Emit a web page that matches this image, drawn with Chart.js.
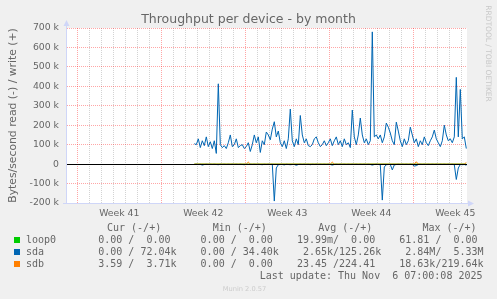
<!DOCTYPE html>
<html>
<head>
<meta charset="utf-8">
<script src="https://cdn.jsdelivr.net/npm/chart.js@4.4.1/dist/chart.umd.min.js"></script>
<style>
  html, body { margin: 0; padding: 0; background: #f0f0f0; }
  #wrap { width: 497px; height: 299px; }
</style>
</head>
<body>
<div id="wrap"><canvas id="graph" width="497" height="299"></canvas></div>
<script>
// munin "diskstats throughput" month graph
// x = hours since monday of week 41, y = kB/s (read drawn below zero)

const weekLabels = ['Week 41', 'Week 42', 'Week 43', 'Week 44', 'Week 45'];
const weekMidHours = [84, 252, 420, 588, 756];

const startHour = 234;  // first sample of sda/sdb
const stepHours = 4;

const sdaWrite = [
  105, 100, 130, 85, 120, 95, 140, 90, 115, 80,
  120, 55, 413, 100, 85, 95, 80, 110, 150, 90,
  100, 130, 85, 95, 100, 80, 90, 110, 65, 100,
  150, 110, 140, 60, 120, 100, 165, 150, 125, 180,
  218, 140, 170, 110, 90, 120, 80, 130, 283, 120,
  90, 130, 100, 250, 150, 110, 130, 95, 90, 100,
  130, 140, 110, 90, 100, 120, 95, 110, 130, 95,
  120, 140, 100, 120, 90, 130, 100, 110, 85, 278,
  140, 100, 150, 237, 150, 110, 130, 100, 120, 680,
  140, 150, 130, 150, 110, 140, 211, 190, 160, 120,
  100, 216, 170, 120, 90, 130, 100, 120, 190, 150,
  110, 130, 90, 120, 100, 140, 110, 95, 120, 140,
  175, 130, 110, 90, 120, 200, 150, 120, 130, 110,
  140, 446, 140, 384, 130, 140, 80
];

const sdaRead = [
  2, 1, 2, 1, 5, 2, 1, 2, 1, 2,
  1, 2, 3, 1, 2, 1, 2, 1, 2, 1,
  2, 1, 2, 1, 2, 3, 1, 2, 1, 2,
  1, 2, 1, 2, 3, 1, 2, 1, 2, 1,
  190, 20, 3, 2, 2, 4, 1, 2, 3, 2,
  2, 6, 2, 1, 2, 1, 2, 1, 3, 1,
  2, 1, 2, 1, 2, 1, 2, 1, 2, 5,
  2, 1, 2, 1, 2, 1, 2, 1, 2, 1,
  2, 1, 2, 1, 2, 1, 2, 1, 2, 5,
  2, 1, 2, 3, 185, 15, 3, 2, 2, 30,
  4, 2, 1, 2, 1, 2, 1, 2, 1, 2,
  10, 8, 2, 1, 2, 1, 2, 1, 2, 1,
  2, 1, 2, 1, 2, 1, 2, 1, 2, 1,
  3, 79, 20, 2, 3, 2, 6
];

const sdbWrite = [
  0, 0, 0, 0, 0, 0, 0, 0, 0, 0,
  0, 0, 0, 0, 0, 0, 0, 0, 0, 0,
  0, 0, 0, 0, 0, 0, 0, 10, 0, 0,
  0, 0, 0, 0, 0, 0, 0, 0, 0, 0,
  0, 0, 0, 0, 0, 0, 0, 0, 0, 0,
  0, 0, 0, 0, 0, 0, 0, 0, 0, 0,
  0, 0, 0, 0, 0, 0, 0, 0, 0, 10,
  0, 0, 0, 0, 0, 0, 0, 0, 0, 0,
  0, 0, 0, 0, 0, 0, 0, 0, 0, 0,
  0, 0, 0, 0, 0, 0, 0, 0, 0, 0,
  0, 0, 0, 0, 0, 0, 0, 0, 0, 0,
  0, 12, 0, 0, 0, 0, 0, 0, 0, 0,
  0, 0, 0, 0, 0, 0, 0, 0, 0, 0,
  0, 0, 0, 0, 0, 0, 8
];

const loop0Hours = [234, 778];
const loop0Write = [0, 0];

// legend table
const legendNames = ['loop0', 'sda', 'sdb'];
const legendColors = ['#00cc00', '#0066b3', '#ff8000'];
const curCol = ['  0.00 /  0.00 ', '  0.00 / 72.04k', '  3.59 /  3.71k'];
const minCol = ['  0.00 /  0.00 ', '  0.00 / 34.40k', '  0.00 /  0.00 '];
const avgCol = [' 19.99m/  0.00 ', '  2.65k/125.26k', ' 23.45 /224.41 '];
const maxCol = [' 61.81 /  0.00 ', '  2.84M/  5.33M', ' 18.63k/219.64k'];
const lastUpdate = 'Last update: Thu Nov  6 07:00:08 2025';

const hourOf = i => startHour + i * stepHours;
const GRID = 'rgba(128,128,128,0.35)';
const MGRID = 'rgba(255,0,0,0.35)';
const AXIS = '#cfd6f8';
const FONT = '#666666';

let muninPlugin = {
    id: 'munin',
    beforeDraw(chart) {
        const {ctx, chartArea: a} = chart;
        ctx.save();
        ctx.fillStyle = '#ffffff';
        ctx.fillRect(a.left, a.top, a.right - a.left, a.bottom - a.top);
        ctx.restore();
    },
    afterDatasetsDraw(chart) {
        const {ctx, chartArea: a} = chart;
        const y0 = Math.round(chart.scales.y.getPixelForValue(0)) + 0.5;
        ctx.save();
        // zero line
        ctx.strokeStyle = '#000000';
        ctx.lineWidth = 1;
        ctx.beginPath();
        ctx.moveTo(a.left, y0);
        ctx.lineTo(a.right, y0);
        ctx.stroke();
        // axes + arrows
        ctx.strokeStyle = AXIS;
        ctx.fillStyle = AXIS;
        ctx.beginPath();
        ctx.moveTo(a.left - 0.5, a.bottom + 0.5);
        ctx.lineTo(a.left - 0.5, a.top - 4);
        ctx.moveTo(a.left - 4, a.bottom + 0.5);
        ctx.lineTo(a.right + 3, a.bottom + 0.5);
        ctx.stroke();
        ctx.beginPath();
        ctx.moveTo(a.left - 0.5, a.top - 8);
        ctx.lineTo(a.left - 3.5, a.top - 2);
        ctx.lineTo(a.left + 2.5, a.top - 2);
        ctx.closePath();
        ctx.fill();
        ctx.beginPath();
        ctx.moveTo(a.right + 7, a.bottom + 0.5);
        ctx.lineTo(a.right + 1, a.bottom - 2.5);
        ctx.lineTo(a.right + 1, a.bottom + 3.5);
        ctx.closePath();
        ctx.fill();
        ctx.restore();
    },
    afterDraw(chart) {
        const {ctx, chartArea: a} = chart;
        ctx.save();
        ctx.fillStyle = FONT;
        // title
        ctx.font = '12.5px "DejaVu Sans"';
        ctx.textAlign = 'center';
        ctx.textBaseline = 'alphabetic';
        ctx.fillText('Throughput per device - by month', 248.5, 23);
        // vertical label
        ctx.save();
        ctx.translate(16, (a.top + a.bottom) / 2);
        ctx.rotate(-Math.PI / 2);
        ctx.font = '10.8px "DejaVu Sans"';
        ctx.fillText('Bytes/second read (-) / write (+)', 0, 0);
        ctx.restore();
        // watermark
        ctx.save();
        ctx.translate(485.5, 53.5);
        ctx.rotate(Math.PI / 2);
        ctx.fillStyle = '#c8c8c8';
        ctx.font = '7.5px "DejaVu Sans"';
        ctx.fillText('RRDTOOL / TOBI OETIKER', 0, 0);
        ctx.restore();
        // legend
        ctx.font = '10px "DejaVu Sans Mono"';
        ctx.textAlign = 'left';
        ctx.fillText('Cur (-/+)', 107, 231);
        ctx.fillText('Min (-/+)', 212.7, 231);
        ctx.fillText('Avg (-/+)', 318.2, 231);
        ctx.fillText('Max (-/+)', 422.4, 231);
        legendNames.forEach((name, i) => {
            ctx.fillStyle = legendColors[i];
            ctx.fillRect(14, 237 + i * 12, 6, 6);
            ctx.fillStyle = FONT;
            let row = name.padEnd(10) + curCol[i] + '  ' + minCol[i] + '  ' + avgCol[i] + '  ' + maxCol[i];
            ctx.fillText(row, 26, 243 + i * 12);
        });
        ctx.textAlign = 'right';
        ctx.fillText(lastUpdate, 482.5, 279);
        // footer
        ctx.textAlign = 'center';
        ctx.fillStyle = '#cccccc';
        ctx.font = '6.7px "DejaVu Sans"';
        ctx.fillText('Munin 2.0.57', 244.5, 290.5);
        ctx.restore();
    }
};

let ctxGraph = document.getElementById('graph').getContext('2d');
let graph = new Chart(ctxGraph, {
    type: 'line',
    data: {
        datasets: [{
            label: 'sdb',
            data: sdbWrite.map((v, i) => ({x: hourOf(i), y: v})),
            borderColor: '#ff8000',
            order: 0
        }, {
            label: 'sda write',
            data: sdaWrite.map((v, i) => ({x: hourOf(i), y: v})),
            borderColor: '#0066b3',
            order: 1
        }, {
            label: 'sda read',
            data: sdaRead.map((v, i) => ({x: hourOf(i), y: -v})),
            borderColor: '#0066b3',
            order: 1
        }, {
            label: 'loop0',
            data: loop0Write.map((v, i) => ({x: loop0Hours[i], y: v})),
            borderColor: '#00cc00',
            order: 2
        }]
    },
    options: {
        responsive: false,
        animation: false,
        devicePixelRatio: 1,
        layout: {
            padding: {left: 0, top: 28, right: 30, bottom: 0}
        },
        elements: {
            point: {radius: 0},
            line: {borderWidth: 1, tension: 0, fill: false}
        },
        plugins: {
            legend: {display: false},
            tooltip: {enabled: false},
            title: {display: false}
        },
        scales: {
            x: {
                type: 'linear',
                min: -20.6,
                max: 779.4,
                afterFit(scale) { scale.height = 96; },
                afterBuildTicks(scale) {
                    let ticks = [];
                    for (let h = 0; h <= scale.max; h += 24) ticks.push({value: h});
                    weekMidHours.forEach(h => ticks.push({value: h}));
                    ticks.sort((p, q) => p.value - q.value);
                    scale.ticks = ticks;
                },
                grid: {
                    drawTicks: false,
                    color(c) {
                        let v = c.tick ? c.tick.value : 0;
                        if (weekMidHours.includes(v)) return 'rgba(0,0,0,0)';
                        return v % 168 === 0 ? MGRID : GRID;
                    }
                },
                border: {display: false, dash: [1, 1]},
                ticks: {
                    autoSkip: false,
                    maxRotation: 0,
                    padding: 5,
                    color: FONT,
                    font: {family: 'DejaVu Sans', size: 9.3},
                    callback(value) {
                        let k = weekMidHours.indexOf(value);
                        return k >= 0 ? weekLabels[k] : '';
                    }
                }
            },
            y: {
                min: -200,
                max: 700,
                afterFit(scale) { scale.width = 67; },
                grid: {
                    drawTicks: false,
                    color(c) {
                        let v = c.tick ? c.tick.value : 0;
                        return v % 100 === 0 ? MGRID : GRID;
                    }
                },
                border: {display: false, dash: [1, 1]},
                ticks: {
                    stepSize: 50,
                    padding: 8,
                    color: FONT,
                    font: {family: 'DejaVu Sans', size: 9.3},
                    callback(value) {
                        if (value % 100 !== 0) return '';
                        return value === 0 ? '0' : value + ' k';
                    }
                }
            }
        }
    },
    plugins: [muninPlugin]
});
</script>
</body>
</html>
